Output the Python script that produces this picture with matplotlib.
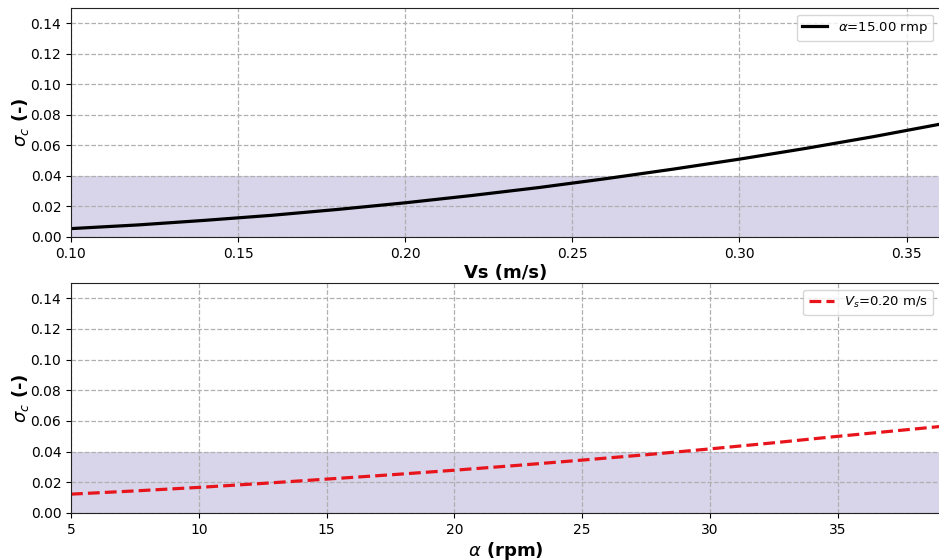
import matplotlib
matplotlib.use("Agg")
import matplotlib.pyplot as plt

# Top panel: sigma_c vs Vs at alpha = 15 rpm
vs = [0.10, 0.12, 0.14, 0.16, 0.18, 0.20, 0.22, 0.24, 0.26, 0.28, 0.30, 0.32, 0.34, 0.35, 0.36]
sigma_vs = [0.0055, 0.0079, 0.0109, 0.0142, 0.0181, 0.0224, 0.0272, 0.0324, 0.0382, 0.0444, 0.0510, 0.0581, 0.0657, 0.0698, 0.0739]

# Bottom panel: sigma_c vs alpha at Vs = 0.20 m/s
alpha = [5, 7.5, 10, 12.5, 15, 17.5, 20, 22.5, 25, 27.5, 30, 32.5, 35, 37.5, 39]
sigma_alpha = [0.0123, 0.0144, 0.0167, 0.0193, 0.0221, 0.0249, 0.0279, 0.0311, 0.0345, 0.0380, 0.0418, 0.0458, 0.0500, 0.0540, 0.0564]

threshold = 0.04
yticks = [0.00, 0.02, 0.04, 0.06, 0.08, 0.10, 0.12, 0.14]
xticks_top = [0.10, 0.15, 0.20, 0.25, 0.30, 0.35]
xticks_bot = [5, 10, 15, 20, 25, 30, 35]

fig = plt.figure(figsize=(9.39, 5.6), dpi=100)
ax1 = fig.add_axes([71/939, 1-237/560, 869/939, 229/560])
ax2 = fig.add_axes([71/939, 1-513/560, 869/939, 230/560])

shade = "#d8d4ea"

for ax in (ax1, ax2):
    ax.axhspan(0, threshold, color=shade, zorder=0.5, lw=0)
    ax.grid(True, linestyle="--", color="#b0b0b0", linewidth=0.9)
    ax.set_ylim(0, 0.15)
    ax.set_yticks(yticks)
    ax.set_yticklabels([f"{t:.2f}" for t in yticks])
    ax.tick_params(labelsize=10)
    ax.set_ylabel(r"$\sigma_c$ (-)", fontsize=13, fontweight="bold", labelpad=0)
    for s in ax.spines.values():
        s.set_color("#222222")

ax1.plot(vs, sigma_vs, color="black", lw=2.3, label=r"$\alpha$=15.00 rmp")
ax1.set_xlim(0.10, 0.36)
ax1.set_xticks(xticks_top)
ax1.set_xticklabels([f"{t:.2f}" for t in xticks_top])
ax1.set_xlabel("Vs (m/s)", fontsize=13, fontweight="bold", labelpad=2)
ax1.legend(loc="upper right", fontsize=9.5, handlelength=1.9)

ax2.plot(alpha, sigma_alpha, color="#e8141c", lw=2.3, ls="--", label=r"$V_s$=0.20 m/s")
ax2.set_xlim(5, 39)
ax2.set_xticks(xticks_bot)
ax2.set_xlabel(r"$\alpha$ (rpm)", fontsize=13, fontweight="bold", labelpad=2)
ax2.legend(loc="upper right", fontsize=9.5, handlelength=1.9)

fig.savefig("out.png", dpi=100)
